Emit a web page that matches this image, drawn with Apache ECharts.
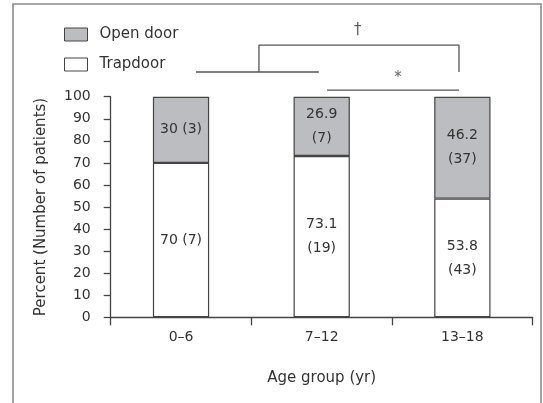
<!DOCTYPE html>
<html>
<head>
<meta charset="utf-8">
<script src="https://cdn.jsdelivr.net/npm/echarts@6/dist/echarts.min.js"></script>
<style>
  html, body { margin: 0; padding: 0; background: #fff; }
  #chart { width: 543px; height: 403px; }
</style>
</head>
<body>
<div id="chart"></div>
<script>
// Age groups and the share of patients per fracture type (percent, with counts)
const ageGroups = ['0\u20136', '7\u201312', '13\u201318'];
const trapdoorPct = [70, 73.1, 53.8];
const trapdoorN = [7, 19, 43];
const openDoorPct = [30, 26.9, 46.2];
const openDoorN = [3, 7, 37];
const yTicks = [0, 10, 20, 30, 40, 50, 60, 70, 80, 90, 100];

// Significance brackets, in [category position, percent level] units
const daggerBracket = [[0.554, 111.2], [0.554, 123.4], [1.976, 123.4], [1.976, 111.2]];
const pooledLine = [[0.106, 111.2], [0.98, 111.2]];
const starLine = [[1.038, 103.0], [1.976, 103.0]];
const sigMarks = [
  { value: [1.257, 130.2], text: '\u2020' },
  { value: [1.542, 108.5], text: '*' }
];

const FONT = 'DejaVu Sans';
const LABEL_SIZE = 14;
const INK = '#444';
const GREY = '#bcbdc0';

// Put the count on its own line when "value (n)" is wider than the bar
const measureCtx = document.createElement('canvas').getContext('2d');
measureCtx.font = LABEL_SIZE + 'px "' + FONT + '"';
function segmentText(v, n) {
  const oneLine = v + ' (' + n + ')';
  return measureCtx.measureText(oneLine).width > 48 ? v + '\n(' + n + ')' : oneLine;
}

function segmentLabel(pcts, counts) {
  return pcts.map((v, i) => ({
    value: v,
    label: { formatter: segmentText(v, counts[i]) }
  }));
}

const barLabel = {
  show: true,
  position: 'inside',
  fontFamily: FONT,
  fontSize: LABEL_SIZE,
  color: '#333',
  lineHeight: 24,
  align: 'center'
};

const bracketLine = (data) => ({
  type: 'line',
  xAxisIndex: 1,
  data: data,
  symbol: 'none',
  clip: false,
  silent: true,
  lineStyle: { color: '#555', width: 1.3 },
  z: 5
});

const chart = echarts.init(document.getElementById('chart'), null, { renderer: 'canvas' });

chart.setOption({
  animation: false,
  backgroundColor: '#fff',
  textStyle: { fontFamily: FONT },
  graphic: [{
    type: 'rect',
    shape: { x: 13, y: 4, width: 528, height: 420 },
    style: { fill: 'none', stroke: '#8a8a8a', lineWidth: 1.6 },
    silent: true,
    z: -10
  }],
  legend: {
    orient: 'vertical',
    left: 64,
    top: 27,
    padding: 0,
    itemWidth: 23,
    itemHeight: 13,
    itemGap: 15,
    textStyle: { fontFamily: FONT, fontSize: 15, color: '#333', padding: [0, 0, 0, 7] },
    data: [
      { name: 'Open door', icon: 'rect', itemStyle: { color: GREY, borderColor: INK, borderWidth: 1 } },
      { name: 'Trapdoor', icon: 'rect', itemStyle: { color: '#fff', borderColor: INK, borderWidth: 1 } }
    ]
  },
  grid: { left: 110.7, right: 10.3, top: 96.7, bottom: 85.7 },
  xAxis: [{
    type: 'category',
    data: ageGroups,
    name: 'Age group (yr)',
    nameLocation: 'middle',
    nameGap: 53,
    nameTextStyle: { fontFamily: FONT, fontSize: 15, color: '#333' },
    axisLine: { lineStyle: { color: INK, width: 1.3 } },
    axisTick: { show: true, length: 8, lineStyle: { color: INK, width: 1.3 } },
    axisLabel: { fontFamily: FONT, fontSize: 14, color: '#333', margin: 13 }
  }, {
    type: 'value',
    min: -0.5,
    max: 2.5,
    show: false
  }],
  yAxis: {
    type: 'value',
    min: yTicks[0],
    max: yTicks[yTicks.length - 1],
    interval: yTicks[1] - yTicks[0],
    name: 'Percent (Number of patients)',
    nameLocation: 'middle',
    nameGap: 62,
    nameTextStyle: { fontFamily: FONT, fontSize: 15, color: '#333' },
    splitLine: { show: false },
    axisLine: { show: true, onZero: false, lineStyle: { color: INK, width: 1.3 } },
    axisTick: { show: true, length: 7, lineStyle: { color: INK, width: 1.3 } },
    axisLabel: { fontFamily: FONT, fontSize: 14, color: '#333', margin: 20 }
  },
  series: [{
    name: 'Trapdoor',
    type: 'bar',
    stack: 'share',
    barWidth: '40%',
    data: segmentLabel(trapdoorPct, trapdoorN),
    itemStyle: { color: '#fff', borderColor: INK, borderWidth: 1.2 },
    label: barLabel
  }, {
    name: 'Open door',
    type: 'bar',
    stack: 'share',
    barWidth: '40%',
    data: segmentLabel(openDoorPct, openDoorN),
    itemStyle: { color: GREY, borderColor: INK, borderWidth: 1.2 },
    label: barLabel
  },
  bracketLine(daggerBracket),
  bracketLine(pooledLine),
  bracketLine(starLine),
  {
    type: 'scatter',
    xAxisIndex: 1,
    symbolSize: 0,
    clip: false,
    silent: true,
    data: sigMarks.map(m => ({ value: m.value, label: { formatter: m.text } })),
    label: {
      show: true,
      position: 'inside',
      fontFamily: FONT,
      fontSize: 15,
      color: '#333'
    }
  }]
});
</script>
</body>
</html>
